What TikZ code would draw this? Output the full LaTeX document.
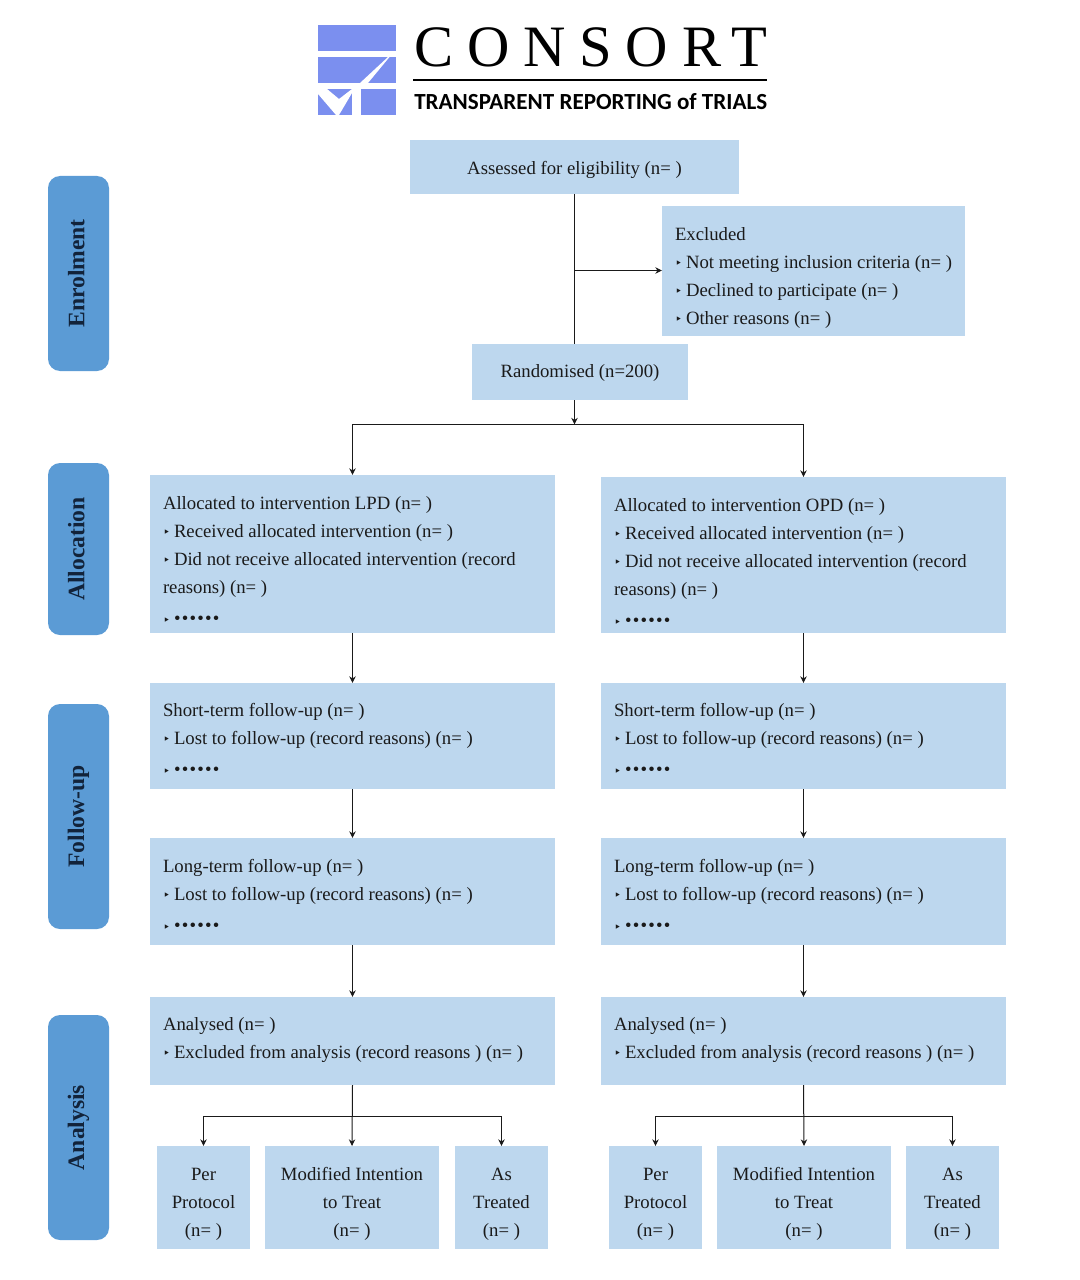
\documentclass[tikz,border=0pt]{standalone}
\usepackage{fontspec}
\setmainfont{Liberation Serif}
\newfontfamily\djf{DejaVu Sans}
\newfontfamily\logosans{Carlito}
\usetikzlibrary{arrows.meta}
\definecolor{boxblue}{HTML}{BDD7EE}
\definecolor{sideblue}{HTML}{5B9BD5}
\definecolor{logoblue}{HTML}{7B8FEF}
\definecolor{inkc}{HTML}{1A1A1A}
\definecolor{sideink}{HTML}{12233A}
\newcommand\bul{\makebox[8.25pt][l]{\raisebox{0.5pt}{\djf\fontsize{9}{9}\selectfont ‣}}}
\newcommand\dotsline{\makebox[8.25pt][l]{\djf\fontsize{9}{9}\selectfont ‣}{\addfontfeature{LetterSpace=6.5}••••••}}
% name, x1, y1, x2, y2, first baseline offset (px), content
\newcommand\bx[7]{\node[boxn,minimum width={(#4-#2)*0.75pt},minimum height={(#5-#3)*0.75pt}] (#1) at ({(#2+#4)/2},{(#3+#5)/2})
 {\parbox[c][\dimexpr 0.75pt*\numexpr#5-#3\relax\relax][t]{\dimexpr 0.75pt*\numexpr#4-#2\relax\relax}{\fontsize{14.05}{21}\selectfont\leftskip=9.75pt\relax\rightskip=0pt plus 1fil\relax\parfillskip=0pt plus 1fil\relax\vspace*{\dimexpr 0.75pt*#6-14.7pt\relax}\strut #7}};}
\newcommand\bc[7]{\node[boxn,minimum width={(#4-#2)*0.75pt},minimum height={(#5-#3)*0.75pt}] (#1) at ({(#2+#4)/2},{(#3+#5)/2})
 {\parbox[c][\dimexpr 0.75pt*\numexpr#5-#3\relax\relax][t]{\dimexpr 0.75pt*\numexpr#4-#2\relax\relax}{\fontsize{14.05}{21}\selectfont\centering\vspace*{\dimexpr 0.75pt*#6-14.7pt\relax}\strut #7}};}
\newcommand\sd[5]{\node[sidebox,minimum width={(#4-#2)*0.75pt},minimum height={(#3)*0.75pt}] (#1) at ({78.5},{(#2+#4)/2}) {\raisebox{3.5pt}{#5}};}
\begin{document}
\begin{tikzpicture}[x=0.75pt,y=-0.75pt,
 boxn/.style={fill=boxblue,draw=none,inner sep=0pt,outer sep=0pt,text=inkc},
 sidebox/.style={fill=sideblue,draw=none,rounded corners=9pt,rotate=90,inner sep=0pt,outer sep=0pt,text=sideink,font=\fontsize{17.7}{20}\selectfont\bfseries},
 arr/.style={draw=inkc,line width=0.75pt,-{Stealth[length=5pt,width=4.8pt]}},
 lin/.style={draw=inkc,line width=0.75pt},
 logofill/.style={fill=logoblue,draw=none}]
\useasboundingbox (0,0) rectangle (1079,1280);
% logo
\fill[logofill] (318,25) rectangle (396,51);
\fill[logofill] (318,57) rectangle (396,83);
\fill[logofill] (318,89) rectangle (352,115);
\fill[logofill] (361,89) rectangle (396,115);
\fill[white] (388,57) -- (360,83) -- (368,83) -- (389.5,57) -- cycle;
\fill[white] (318,89) -- (327,89) -- (339,99) -- (352,89) -- (352,93) -- (339,115) -- (336,115) -- (318,94) -- cycle;
\node[inner sep=0pt,anchor=base west] (logoname) at (414,67) {\addfontfeature{LetterSpace=23.5}\fontsize{44}{50}\selectfont CONSORT};
\draw[black,line width=1.1pt] (413,80) -- (767,80);
\node[inner sep=0pt,anchor=base west] (logotag) at (414,109.5) {\logosans\bfseries\fontsize{17.3}{18}\selectfont TRANSPARENT REPORTING of TRIALS};
% side labels
\sd{enrol}{176}{61}{371}{Enrolment}
\sd{alloc}{463}{61}{635}{Allocation}
\sd{follow}{704}{61}{929}{Follow-up}
\sd{analysis}{1015}{61}{1240}{Analysis}
% top
\bc{assess}{410}{140}{739}{194}{35}{Assessed for eligibility (n= )}
\bx{excl}{662}{206}{965}{336}{34}{Excluded\\\bul Not meeting inclusion criteria (n= )\\\bul Declined to participate (n= )\\\bul Other reasons (n= )}
\bc{rand}{472}{344}{688}{400}{33}{Randomised (n=200)}
% allocation
\bx{allocL}{150}{475}{555}{633}{34}{Allocated to intervention LPD (n= )\\\bul Received allocated intervention (n= )\\\bul Did not receive allocated intervention (record\\reasons) (n= )\\[2.25pt]\dotsline}
\bx{allocR}{601}{477}{1006}{633}{34}{Allocated to intervention OPD (n= )\\\bul Received allocated intervention (n= )\\\bul Did not receive allocated intervention (record\\reasons) (n= )\\[2.25pt]\dotsline}
% short
\bx{shortL}{150}{683}{555}{789}{33}{Short-term follow-up (n= )\\\bul Lost to follow-up (record reasons) (n= )\\[2.25pt]\dotsline}
\bx{shortR}{601}{683}{1006}{789}{33}{Short-term follow-up (n= )\\\bul Lost to follow-up (record reasons) (n= )\\[2.25pt]\dotsline}
\bx{longL}{150}{838}{555}{945}{34}{Long-term follow-up (n= )\\\bul Lost to follow-up (record reasons) (n= )\\[2.25pt]\dotsline}
\bx{longR}{601}{838}{1006}{945}{34}{Long-term follow-up (n= )\\\bul Lost to follow-up (record reasons) (n= )\\[2.25pt]\dotsline}
\bx{anaL}{150}{997}{555}{1085}{33}{Analysed (n= )\\\bul Excluded from analysis (record reasons ) (n= )}
\bx{anaR}{601}{997}{1006}{1085}{33}{Analysed (n= )\\\bul Excluded from analysis (record reasons ) (n= )}
% outcome
\bc{perL}{157}{1146}{250}{1249}{34}{Per\\Protocol\\(n= )}
\bc{mitL}{265}{1146}{439}{1249}{34}{Modified Intention\\to Treat\\(n= )}
\bc{asL}{455}{1146}{548}{1249}{34}{As\\Treated\\(n= )}
\bc{perR}{609}{1146}{702}{1249}{34}{Per\\Protocol\\(n= )}
\bc{mitR}{717}{1146}{891}{1249}{34}{Modified Intention\\to Treat\\(n= )}
\bc{asR}{906}{1146}{999}{1249}{34}{As\\Treated\\(n= )}
% connectors
\coordinate (tap) at (574.5,270.5);
\coordinate (split) at (574.5,424.5);
\coordinate (forkL) at (352.5,1116.5);
\coordinate (forkR) at (803.5,1116.5);
\draw[lin] (assess.south) -- (assess.south |- rand.north);
\draw[arr] (tap) -- (tap -| excl.west);
\draw[arr] (assess.south |- rand.south) -- (split);
\draw[arr] (split) -| (allocL.north);
\draw[arr] (split) -| (allocR.north);
\draw[arr] (allocL) -- (shortL);
\draw[arr] (allocR) -- (shortR);
\draw[arr] (shortL) -- (longL);
\draw[arr] (shortR) -- (longR);
\draw[arr] (longL) -- (anaL);
\draw[arr] (longR) -- (anaR);
\draw[arr] (anaL.south) -- (mitL.north);
\draw[arr] (anaR.south) -- (mitR.north);
\draw[arr] (forkL) -| (perL.north);
\draw[arr] (forkL) -| (asL.north);
\draw[arr] (forkR) -| (perR.north);
\draw[arr] (forkR) -| (asR.north);
\end{tikzpicture}
\end{document}
